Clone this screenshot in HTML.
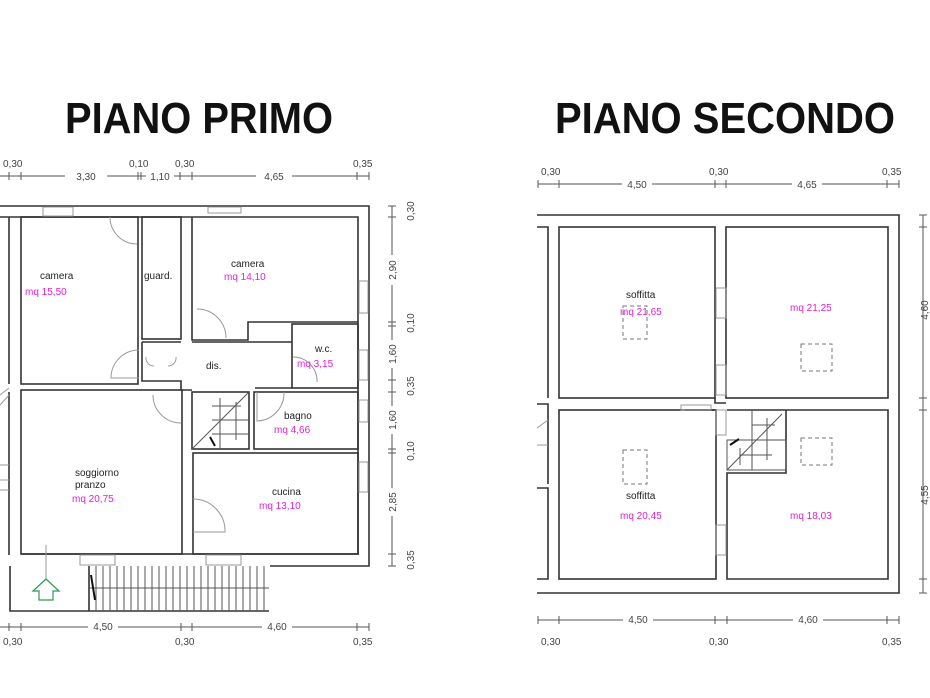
<!DOCTYPE html>
<html><head><meta charset="utf-8"><style>
html,body{margin:0;padding:0;background:#fff;}
svg{display:block;}
.w{fill:none;stroke:#333;stroke-width:1.6;}
.t{fill:none;stroke:#555;stroke-width:1;}
.g{fill:none;stroke:#999;stroke-width:1;}
.d{font-family:"Liberation Sans",sans-serif;font-size:10px;fill:#444;}
.l{font-family:"Liberation Sans",sans-serif;font-size:10px;fill:#222;}
.m{font-family:"Liberation Sans",sans-serif;font-size:10px;fill:#e020d0;}
.h{font-family:"Liberation Sans",sans-serif;font-size:44px;font-weight:bold;fill:#111;}
</style></head><body>
<svg width="930" height="698" viewBox="0 0 930 698" xmlns="http://www.w3.org/2000/svg">
<rect width="930" height="698" fill="#fff"/>
<text class="h" x="65" y="133" textLength="268" lengthAdjust="spacingAndGlyphs">PIANO PRIMO</text>
<text class="h" x="555" y="133" textLength="340" lengthAdjust="spacingAndGlyphs">PIANO SECONDO</text>

<!-- LEFT PLAN top dims -->
<line class="t" x1="0" y1="176" x2="369" y2="176"/>
<g class="t"><line x1="9" y1="172" x2="9" y2="180"/><line x1="21" y1="172" x2="21" y2="180"/><line x1="138" y1="172" x2="138" y2="180"/><line x1="141" y1="172" x2="141" y2="180"/><line x1="180" y1="172" x2="180" y2="180"/><line x1="192" y1="172" x2="192" y2="180"/><line x1="357" y1="172" x2="357" y2="180"/><line x1="369" y1="172" x2="369" y2="180"/></g>
<rect x="65" y="170" width="42" height="12" fill="#fff"/><text class="d" x="86" y="180" text-anchor="middle">3,30</text>
<rect x="146" y="170" width="28" height="12" fill="#fff"/><text class="d" x="160" y="180" text-anchor="middle">1,10</text>
<rect x="256" y="170" width="36" height="12" fill="#fff"/><text class="d" x="274" y="180" text-anchor="middle">4,65</text>
<text class="d" x="3" y="167">0,30</text><text class="d" x="129" y="167">0,10</text><text class="d" x="175" y="167">0,30</text><text class="d" x="353" y="167">0,35</text>

<!-- outer walls -->
<path class="w" d="M0 206 H369 V566 H270"/>
<path class="w" d="M0 217 H358 V554 H21"/>
<path class="w" d="M9 217 V384 M9 392 V555"/>
<line class="g" x1="0" y1="395" x2="9" y2="388"/><line class="g" x1="0" y1="405" x2="9" y2="395"/>
<line class="g" x1="0" y1="465" x2="9" y2="465"/><line class="g" x1="0" y1="480" x2="9" y2="480"/><line class="g" x1="0" y1="490" x2="9" y2="490"/>
<rect class="w" x="21" y="217" width="117" height="167"/>
<rect class="w" x="142" y="217" width="39" height="122"/>
<path class="w" d="M192 217 V340 H248 V322 H358"/>
<rect class="w" x="292" y="324" width="66" height="64"/>
<path class="w" d="M142 342 H181 M192 342 H292 M142 342 V381 H181 V390 H192 M292 388 H255"/>
<rect class="w" x="21" y="390" width="161" height="164"/>
<rect class="w" x="192" y="392" width="57" height="57"/>
<rect class="w" x="254" y="392" width="104" height="57"/>
<rect class="w" x="193" y="453" width="165" height="101"/>
<g class="g"><rect x="43" y="207" width="30" height="9"/><rect x="208" y="207" width="33" height="6"/>
<rect x="359" y="281" width="9" height="32"/><rect x="359" y="350" width="9" height="30"/><rect x="359" y="400" width="9" height="22"/><rect x="359" y="462" width="9" height="30"/>
<rect x="80" y="555" width="35" height="10"/><rect x="206" y="555" width="35" height="10"/></g>
<g class="g"><path d="M110 217 A27 27 0 0 0 137 244"/><path d="M197 309 A29 29 0 0 1 226 338"/>
<path d="M139 350 A28 28 0 0 0 111 378 H139"/><path d="M146 357 A8 8 0 0 0 154 366 M176 357 A8 8 0 0 1 168 366"/>
<path d="M153 395 A28 28 0 0 0 181 423"/><path d="M257 392 V421 A28 28 0 0 0 284 392"/>
<path d="M193 499 A32 32 0 0 1 225 532 H193"/><path d="M293 357 A24 24 0 0 1 317 382"/></g>
<g class="t"><line x1="192" y1="449" x2="249" y2="392"/><line x1="212" y1="406" x2="241" y2="406"/><line x1="212" y1="420" x2="249" y2="420"/><line x1="212" y1="434" x2="249" y2="434"/><line x1="220" y1="398" x2="220" y2="449"/><line x1="236" y1="402" x2="236" y2="440"/></g>
<line x1="210" y1="437" x2="215" y2="446" stroke="#111" stroke-width="2"/>
<path class="w" d="M10 566 V611 H269 M89 566 V611"/>
<g class="t">
<line x1="89" y1="588" x2="269" y2="588"/>
<line x1="96" y1="566" x2="96" y2="611"/><line x1="103" y1="566" x2="103" y2="611"/><line x1="110" y1="566" x2="110" y2="611"/><line x1="117" y1="566" x2="117" y2="611"/><line x1="124" y1="566" x2="124" y2="611"/><line x1="131" y1="566" x2="131" y2="611"/><line x1="138" y1="566" x2="138" y2="611"/><line x1="145" y1="566" x2="145" y2="611"/><line x1="152" y1="566" x2="152" y2="611"/><line x1="159" y1="566" x2="159" y2="611"/><line x1="166" y1="566" x2="166" y2="611"/><line x1="173" y1="566" x2="173" y2="611"/><line x1="180" y1="566" x2="180" y2="611"/><line x1="187" y1="566" x2="187" y2="611"/><line x1="194" y1="566" x2="194" y2="611"/><line x1="201" y1="566" x2="201" y2="611"/><line x1="208" y1="566" x2="208" y2="611"/><line x1="215" y1="566" x2="215" y2="611"/><line x1="222" y1="566" x2="222" y2="611"/><line x1="229" y1="566" x2="229" y2="611"/><line x1="236" y1="566" x2="236" y2="611"/><line x1="243" y1="566" x2="243" y2="611"/><line x1="250" y1="566" x2="250" y2="611"/><line x1="257" y1="566" x2="257" y2="611"/><line x1="264" y1="566" x2="264" y2="611"/></g>
<line x1="91" y1="575" x2="95" y2="600" stroke="#111" stroke-width="2"/>
<line class="g" x1="46" y1="545" x2="46" y2="580"/>
<path d="M46 579 L59 591 H53 V600 H39 V591 H33 Z" fill="none" stroke="#2a9a50" stroke-width="1.2"/>
<line class="t" x1="0" y1="627" x2="369" y2="627"/>
<rect x="88" y="620" width="30" height="12" fill="#fff"/><text class="d" x="103" y="630" text-anchor="middle">4,50</text>
<rect x="262" y="620" width="30" height="12" fill="#fff"/><text class="d" x="277" y="630" text-anchor="middle">4,60</text>
<g class="t"><line x1="9" y1="623" x2="9" y2="631"/><line x1="21" y1="623" x2="21" y2="631"/><line x1="181" y1="623" x2="181" y2="631"/><line x1="192" y1="623" x2="192" y2="631"/><line x1="357" y1="623" x2="357" y2="631"/><line x1="369" y1="623" x2="369" y2="631"/></g>
<text class="d" x="3" y="645">0,30</text><text class="d" x="175" y="645">0,30</text><text class="d" x="353" y="645">0,35</text>
<line class="t" x1="392" y1="206" x2="392" y2="566"/>
<g class="t"><line x1="388" y1="206" x2="396" y2="206"/><line x1="388" y1="217" x2="396" y2="217"/><line x1="388" y1="322" x2="396" y2="322"/><line x1="388" y1="326" x2="396" y2="326"/><line x1="388" y1="380" x2="396" y2="380"/><line x1="388" y1="392" x2="396" y2="392"/><line x1="388" y1="449" x2="396" y2="449"/><line x1="388" y1="453" x2="396" y2="453"/><line x1="388" y1="554" x2="396" y2="554"/><line x1="388" y1="566" x2="396" y2="566"/></g>
<g class="d">
<rect x="386" y="255" width="12" height="30" fill="#fff"/><text transform="translate(396 270) rotate(-90)" text-anchor="middle">2,90</text>
<rect x="386" y="340" width="12" height="28" fill="#fff"/><text transform="translate(396 354) rotate(-90)" text-anchor="middle">1,60</text>
<rect x="386" y="406" width="12" height="28" fill="#fff"/><text transform="translate(396 420) rotate(-90)" text-anchor="middle">1,60</text>
<rect x="386" y="488" width="12" height="28" fill="#fff"/><text transform="translate(396 502) rotate(-90)" text-anchor="middle">2,85</text>
<text transform="translate(414 211) rotate(-90)" text-anchor="middle">0,30</text>
<text transform="translate(414 323) rotate(-90)" text-anchor="middle">0,10</text>
<text transform="translate(414 386) rotate(-90)" text-anchor="middle">0,35</text>
<text transform="translate(414 451) rotate(-90)" text-anchor="middle">0,10</text>
<text transform="translate(414 560) rotate(-90)" text-anchor="middle">0,35</text></g>
<text class="l" x="40" y="279">camera</text><text class="m" x="25" y="295">mq  15,50</text>
<text class="l" x="144" y="279">guard.</text>
<text class="l" x="231" y="267">camera</text><text class="m" x="224" y="280">mq  14,10</text>
<text class="l" x="206" y="369">dis.</text>
<text class="l" x="315" y="352">w.c.</text><text class="m" x="297" y="367">mq  3,15</text>
<text class="l" x="284" y="419">bagno</text><text class="m" x="274" y="433">mq  4,66</text>
<text class="l" x="75" y="476">soggiorno</text><text class="l" x="75" y="488">pranzo</text><text class="m" x="72" y="502">mq  20,75</text>
<text class="l" x="272" y="495">cucina</text><text class="m" x="259" y="509">mq  13,10</text>

<!-- RIGHT PLAN -->
<line class="t" x1="538" y1="184" x2="899" y2="184"/>
<g class="t"><line x1="538" y1="180" x2="538" y2="188"/><line x1="559" y1="180" x2="559" y2="188"/><line x1="715" y1="180" x2="715" y2="188"/><line x1="726" y1="180" x2="726" y2="188"/><line x1="887" y1="180" x2="887" y2="188"/><line x1="899" y1="180" x2="899" y2="188"/></g>
<rect x="622" y="178" width="30" height="12" fill="#fff"/><text class="d" x="637" y="188" text-anchor="middle">4,50</text>
<rect x="792" y="178" width="30" height="12" fill="#fff"/><text class="d" x="807" y="188" text-anchor="middle">4,65</text>
<text class="d" x="541" y="175">0,30</text><text class="d" x="709" y="175">0,30</text><text class="d" x="882" y="175">0,35</text>
<path class="w" d="M537 215 H899 V593 H537"/>
<path class="w" d="M537 227 H548 V398 M537 404 H548 V484 M537 488 H548 V579 H537"/>
<line class="g" x1="537" y1="428" x2="548" y2="420"/><line class="g" x1="537" y1="445" x2="548" y2="445"/>
<rect class="w" x="559" y="227" width="156" height="171"/>
<rect class="w" x="726" y="227" width="162" height="171"/>
<rect class="w" x="559" y="410" width="157" height="169"/>
<path class="w" d="M727 410 H888 V579 H727 V473 H786 V410"/>
<path class="w" d="M715 398 V403 H726 M685 410 H716"/>
<g class="g"><rect x="716" y="288" width="10" height="30"/><rect x="716" y="365" width="10" height="30"/><rect x="681" y="405" width="30" height="5"/><rect x="716" y="410" width="10" height="25"/><rect x="716" y="525" width="10" height="30"/></g>
<g class="t"><rect x="727" y="440" width="59" height="30"/><line x1="727" y1="470" x2="782" y2="414"/><line x1="752" y1="410" x2="752" y2="470"/><line x1="752" y1="425" x2="775" y2="425"/><line x1="740" y1="455" x2="772" y2="455"/><line x1="740" y1="448" x2="740" y2="465"/><line x1="767" y1="418" x2="767" y2="460"/></g>
<line x1="730" y1="445" x2="739" y2="439" stroke="#111" stroke-width="2"/>
<g fill="none" stroke="#777" stroke-width="1" stroke-dasharray="4 3"><rect x="623" y="306" width="24" height="33"/><rect x="801" y="344" width="31" height="27"/><rect x="623" y="450" width="24" height="34"/><rect x="801" y="438" width="31" height="27"/></g>
<text class="l" x="626" y="298">soffitta</text><text class="m" x="620" y="315">mq  21,65</text>
<text class="m" x="790" y="311">mq  21,25</text>
<text class="l" x="626" y="499">soffitta</text><text class="m" x="620" y="519">mq  20,45</text>
<text class="m" x="790" y="519">mq  18,03</text>
<line class="t" x1="538" y1="620" x2="899" y2="620"/>
<g class="t"><line x1="538" y1="616" x2="538" y2="624"/><line x1="559" y1="616" x2="559" y2="624"/><line x1="715" y1="616" x2="715" y2="624"/><line x1="727" y1="616" x2="727" y2="624"/><line x1="887" y1="616" x2="887" y2="624"/><line x1="899" y1="616" x2="899" y2="624"/></g>
<rect x="623" y="613" width="30" height="12" fill="#fff"/><text class="d" x="638" y="623" text-anchor="middle">4,50</text>
<rect x="793" y="613" width="30" height="12" fill="#fff"/><text class="d" x="808" y="623" text-anchor="middle">4,60</text>
<text class="d" x="541" y="645">0,30</text><text class="d" x="709" y="645">0,30</text><text class="d" x="882" y="645">0,35</text>
<line class="t" x1="923" y1="215" x2="923" y2="593"/>
<g class="t"><line x1="919" y1="215" x2="927" y2="215"/><line x1="919" y1="227" x2="927" y2="227"/><line x1="919" y1="398" x2="927" y2="398"/><line x1="919" y1="410" x2="927" y2="410"/><line x1="919" y1="579" x2="927" y2="579"/><line x1="919" y1="593" x2="927" y2="593"/></g>
<text class="d" transform="translate(928 310) rotate(-90)" text-anchor="middle">4,60</text>
<text class="d" transform="translate(928 495) rotate(-90)" text-anchor="middle">4,55</text>
</svg>
</body></html>
